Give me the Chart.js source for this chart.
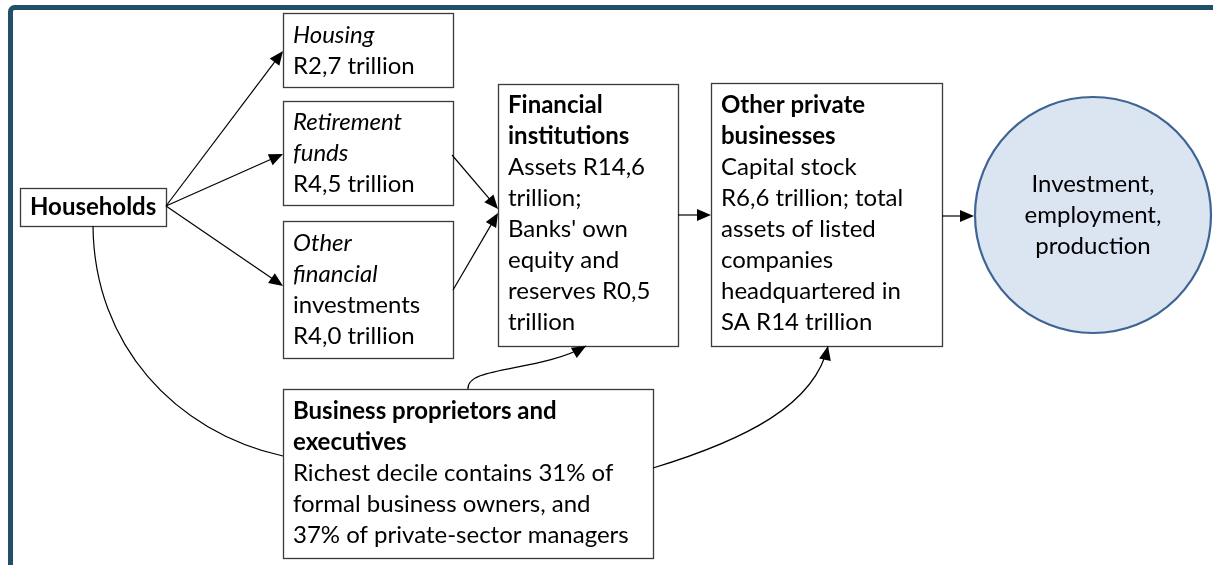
<!DOCTYPE html>
<html>
<head>
<meta charset="utf-8">
<script src="https://cdn.jsdelivr.net/npm/chart.js@4.4.1/dist/chart.umd.min.js"></script>
<style>
  html, body { margin: 0; padding: 0; background: #fff; }
  canvas { display: block; }
</style>
</head>
<body>
<canvas id="flow" width="1213" height="565"></canvas>
<script>
// Text of each node, one entry per line: [text, style] (b = bold, i = italic, n = normal)
const householdsLines = [['Households', 'b']];
const housingLines = [['Housing', 'i'], ['R2,7 trillion', 'n']];
const retirementLines = [['Retirement', 'i'], ['funds', 'i'], ['R4,5 trillion', 'n']];
const otherFinLines = [['Other', 'i'], ['financial', 'i'], ['investments', 'n'], ['R4,0 trillion', 'n']];
const finInstLines = [['Financial', 'b'], ['institutions', 'b'], ['Assets R14,6', 'n'], ['trillion;', 'n'],
    ['Banks\' own', 'n'], ['equity and', 'n'], ['reserves R0,5', 'n'], ['trillion', 'n']];
const otherPrivLines = [['Other private', 'b'], ['businesses', 'b'], ['Capital stock', 'n'], ['R6,6 trillion; total', 'n'],
    ['assets of listed', 'n'], ['companies', 'n'], ['headquartered in', 'n'], ['SA R14 trillion', 'n']];
const businessLines = [['Business proprietors and', 'b'], ['executives', 'b'], ['Richest decile contains 31% of', 'n'],
    ['formal business owners, and', 'n'], ['37% of private-sector managers', 'n']];
const outcomeLines = [['Investment,', 'n'], ['employment,', 'n'], ['production', 'n']];

// Layout (in scale units, the scales span the whole canvas)
const boxes = {
    households: { x: 20, y: 188, w: 146, h: 38, lines: householdsLines, first: 207 },
    housing:    { x: 283, y: 13, w: 170, h: 74, lines: housingLines, first: 35 },
    retirement: { x: 283, y: 101, w: 170, h: 104, lines: retirementLines, first: 122 },
    otherFin:   { x: 283, y: 221, w: 170, h: 137, lines: otherFinLines, first: 243 },
    finInst:    { x: 498, y: 84, w: 180, h: 262, lines: finInstLines, first: 105 },
    otherPriv:  { x: 711, y: 83, w: 231, h: 263, lines: otherPrivLines, first: 105 },
    business:   { x: 283, y: 389, w: 370, h: 169, lines: businessLines, first: 411 }
};
const circle = { cx: 1093, cy: 215, r: 118, lines: outcomeLines, first: 184 };

const straightArrows = [
    [166, 206, 283, 51],
    [166, 206, 283, 154],
    [166, 206, 283, 286],
    [452, 155, 498, 209],
    [453, 290, 498, 213],
    [678, 215, 711, 215],
    [942, 216, 974, 216]
];
// cubic curves: p0, c1, c2, p3, arrow at end?
const curves = [
    [[93, 226], [94, 345], [175, 432], [283, 456], false],
    [[468, 389], [466, 366], [540, 372], [586, 346], true],
    [[653, 468], [745, 440], [815, 405], [828, 346], true]
];

const LINE_H = 31;
const FONT = 'Lato, "Open Sans", sans-serif';
const FONT_SIZE = 24;

const diagramPlugin = {
    id: 'diagram',
    afterDraw(chart) {
        const ctx = chart.ctx;
        const sx = v => chart.scales.x.getPixelForValue(v);
        const sy = v => chart.scales.y.getPixelForValue(v);

        ctx.save();

        // outer frame
        ctx.strokeStyle = '#1f5068';
        ctx.lineWidth = 5;
        ctx.beginPath();
        ctx.roundRect(sx(10.5), sy(7.5), 1300, 700, 4);
        ctx.stroke();

        // boxes
        Object.values(boxes).forEach(b => {
            ctx.fillStyle = '#fff';
            ctx.fillRect(sx(b.x), sy(b.y), b.w, b.h);
            ctx.strokeStyle = '#3a3a3a';
            ctx.lineWidth = 1.3;
            ctx.strokeRect(sx(b.x) + 0.5, sy(b.y) + 0.5, b.w, b.h);
            drawLines(ctx, b.lines, sx(b.x + 10), sy(b.first), 'left');
        });

        // outcome circle
        ctx.beginPath();
        ctx.arc(sx(circle.cx), sy(circle.cy), circle.r, 0, Math.PI * 2);
        ctx.fillStyle = '#dbe4f1';
        ctx.fill();
        ctx.strokeStyle = '#3d6492';
        ctx.lineWidth = 2.2;
        ctx.stroke();
        drawLines(ctx, circle.lines, sx(circle.cx), sy(circle.first), 'center');

        // connectors
        ctx.strokeStyle = '#000';
        ctx.fillStyle = '#000';
        ctx.lineWidth = 1.2;
        straightArrows.forEach(a => {
            const x0 = sx(a[0]), y0 = sy(a[1]), x1 = sx(a[2]), y1 = sy(a[3]);
            const ang = Math.atan2(y1 - y0, x1 - x0);
            ctx.beginPath();
            ctx.moveTo(x0, y0);
            ctx.lineTo(x1 - 10 * Math.cos(ang), y1 - 10 * Math.sin(ang));
            ctx.stroke();
            arrowHead(ctx, x1, y1, ang);
        });
        curves.forEach(c => {
            const [p0, c1, c2, p3, head] = c;
            ctx.beginPath();
            ctx.moveTo(sx(p0[0]), sy(p0[1]));
            ctx.bezierCurveTo(sx(c1[0]), sy(c1[1]), sx(c2[0]), sy(c2[1]), sx(p3[0]), sy(p3[1]));
            ctx.stroke();
            if (head) {
                const ang = Math.atan2(sy(p3[1]) - sy(c2[1]), sx(p3[0]) - sx(c2[0]));
                arrowHead(ctx, sx(p3[0]), sy(p3[1]), ang);
            }
        });

        ctx.restore();
    }
};

function drawLines(ctx, lines, x, y, align) {
    ctx.textAlign = align;
    ctx.textBaseline = 'middle';
    ctx.fillStyle = '#000';
    lines.forEach(([text, style], i) => {
        const w = style === 'b' ? 'bold ' : '';
        const it = style === 'i' ? 'italic ' : '';
        ctx.font = it + w + FONT_SIZE + 'px ' + FONT;
        ctx.fillText(text, x, y + i * LINE_H);
    });
}

function arrowHead(ctx, x, y, ang) {
    const len = 14, half = 6;
    ctx.beginPath();
    ctx.moveTo(x, y);
    ctx.lineTo(x - len * Math.cos(ang) + half * Math.sin(ang), y - len * Math.sin(ang) - half * Math.cos(ang));
    ctx.lineTo(x - len * Math.cos(ang) - half * Math.sin(ang), y - len * Math.sin(ang) + half * Math.cos(ang));
    ctx.closePath();
    ctx.fill();
}

new Chart(document.getElementById('flow'), {
    type: 'scatter',
    data: { datasets: [{ data: [] }] },
    options: {
        responsive: false,
        animation: false,
        layout: { padding: 0 },
        scales: {
            x: { type: 'linear', min: 0, max: 1213, display: false },
            y: { type: 'linear', min: 0, max: 565, reverse: true, display: false }
        },
        plugins: {
            legend: { display: false },
            tooltip: { enabled: false }
        }
    },
    plugins: [diagramPlugin]
});
</script>
</body>
</html>
